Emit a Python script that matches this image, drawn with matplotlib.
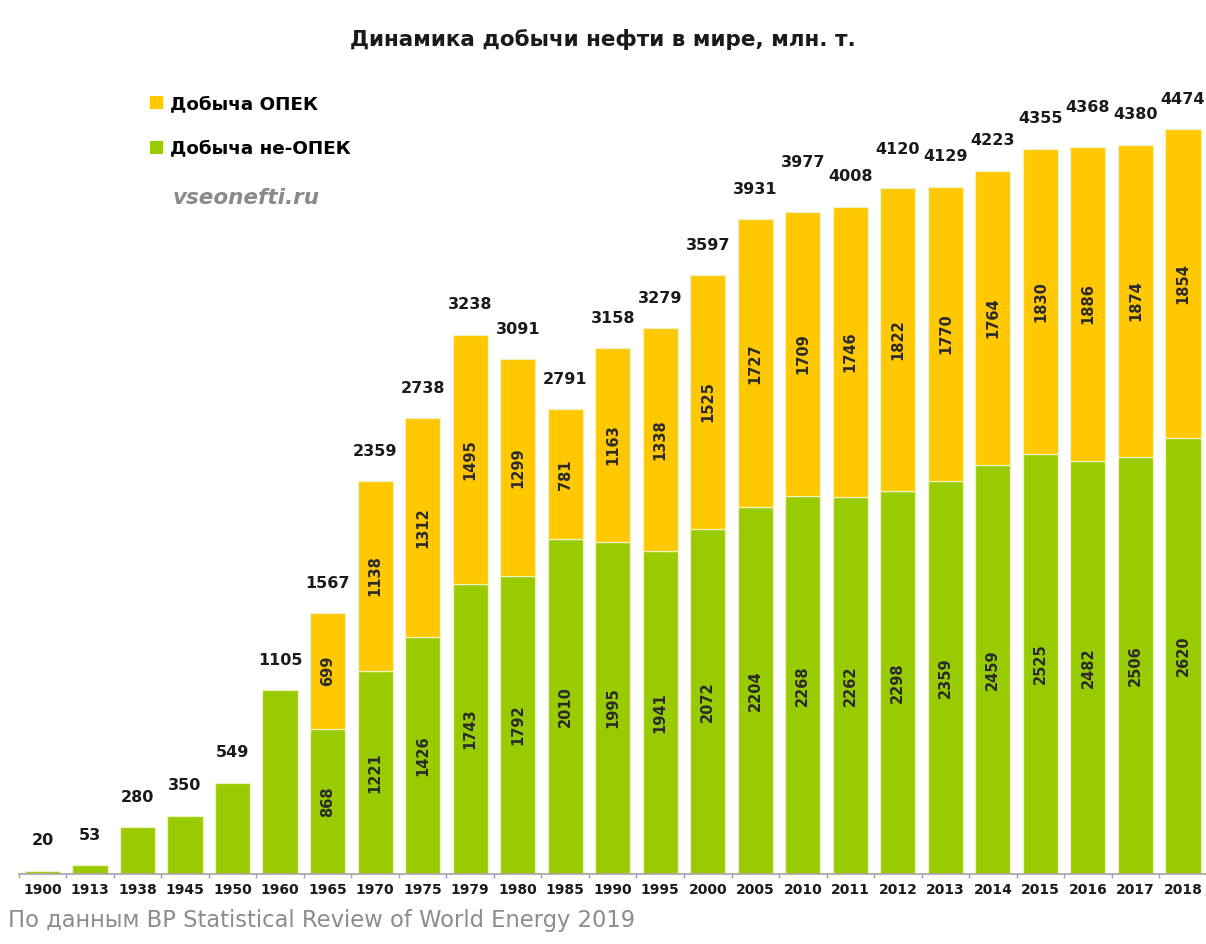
import numpy as np
import matplotlib
matplotlib.use("Agg")
import matplotlib.pyplot as plt
from matplotlib.patches import Patch
from matplotlib.ticker import FixedLocator

# ---- data ----
years = ["1900", "1913", "1938", "1945", "1950", "1960", "1965", "1970", "1975",
         "1979", "1980", "1985", "1990", "1995", "2000", "2005", "2010", "2011",
         "2012", "2013", "2014", "2015", "2016", "2017", "2018"]
totals = [20, 53, 280, 350, 549, 1105, 1567, 2359, 2738, 3238, 3091, 2791, 3158,
          3279, 3597, 3931, 3977, 4008, 4120, 4129, 4223, 4355, 4368, 4380, 4474]
non_opec = [20, 53, 280, 350, 549, 1105, 868, 1221, 1426, 1743, 1792, 2010, 1995,
            1941, 2072, 2204, 2268, 2262, 2298, 2359, 2459, 2525, 2482, 2506, 2620]
opec = [None, None, None, None, None, None, 699, 1138, 1312, 1495, 1299, 781, 1163,
        1338, 1525, 1727, 1709, 1746, 1822, 1770, 1764, 1830, 1886, 1874, 1854]
split = [v is not None for v in opec]   # years with OPEC / non-OPEC split

title = "Динамика добычи нефти в мире, млн. т."
legend_labels = ["Добыча ОПЕК", "Добыча не-ОПЕК"]
source = "По данным BP Statistical Review of World Energy 2019"
site = "vseonefti.ru"

# ---- style ----
YELLOW = "#FFC800"
GREEN = "#99CC00"
EDGE = "#F0F2C0"
# extra lift (px) for a few total labels to avoid overlap, as in the original
label_lift = {"2010": 19, "2012": 9, "2016": 9}

W, H = 1206, 944
fig = plt.figure(figsize=(W / 100, H / 100), dpi=100)
fig.patch.set_facecolor("white")

base_px, top_px = 874, 60
left_px, step_px = 18.7, 47.52
ax = fig.add_axes([left_px / W, (H - base_px) / H, (W - left_px) / W, (base_px - top_px) / H])
px_per_unit = 0.1665
ax.set_ylim(0, (base_px - top_px) / px_per_unit)
ax.set_xlim(-0.5, -0.5 + (W - left_px) / step_px)

x = np.arange(len(years))
green_vals = np.array(non_opec, dtype=float)
yellow_vals = np.array([np.nan if v is None else v for v in opec], dtype=float)

ax.bar(x, green_vals, width=0.74, color=GREEN, edgecolor=EDGE, linewidth=0.9, zorder=2)
ax.bar(x, yellow_vals, bottom=green_vals, width=0.74, color=YELLOW, edgecolor=EDGE,
       linewidth=0.9, zorder=2)

# total labels
for i, (yr, t) in enumerate(zip(years, totals)):
    lift = 30 + label_lift.get(yr, 0)
    ax.annotate(str(t), (i, t), xytext=(0, lift * 0.72), textcoords="offset points",
                ha="center", va="center", fontsize=11.5, fontweight="bold",
                color="#1a1a1a")

# inside labels
for i in range(len(years)):
    if not split[i]:
        continue
    g = green_vals[i]
    yv = yellow_vals[i]
    ax.text(i, g / 2, str(int(g)), rotation=90, ha="center", va="center",
            fontsize=10.5, fontweight="bold", color="#2a2a2a", zorder=3)
    ax.text(i, g + yv / 2, str(int(yv)), rotation=90, ha="center", va="center",
            fontsize=10.5, fontweight="bold", color="#2a2a2a", zorder=3)

# axes styling
for s in ["top", "right", "left"]:
    ax.spines[s].set_visible(False)
ax.spines["bottom"].set_color("#AAAAAA")
ax.spines["bottom"].set_linewidth(1.3)
ax.set_yticks([])
ax.set_xticks(x)
ax.set_xticklabels(years, fontsize=10, fontweight="bold", color="#1a1a1a")
ax.tick_params(axis="x", which="major", length=0, pad=6.5)
ax.xaxis.set_minor_locator(FixedLocator(np.arange(-0.5, len(years), 1.0)))
ax.tick_params(axis="x", which="minor", length=3, width=1, color="#9A9ACC")

# title
fig.text(0.5, 1 - 39 / H, title, ha="center", va="center", fontsize=15.5,
         fontweight="bold", color="#1a1a1a")

# legend
handles = [Patch(facecolor=YELLOW, edgecolor="none"), Patch(facecolor=GREEN, edgecolor="none")]
fig.legend(handles, legend_labels, loc="upper left",
           bbox_to_anchor=(150 / W, 1 - 95 / H), frameon=False,
           prop={"size": 13.2, "weight": "bold"}, handlelength=0.7, handleheight=0.7,
           handletextpad=0.4, labelspacing=1.45, borderpad=0, borderaxespad=0)

fig.text(173 / W, 1 - 198 / H, site, ha="left", va="center", fontsize=15.5,
         fontweight="bold", fontstyle="italic", color="#8A8A8A")

fig.text(8 / W, 1 - 920 / H, source, ha="left", va="center", fontsize=16.3,
         color="#8C8C8C")

fig.savefig("out.png", dpi=100, facecolor="white")
